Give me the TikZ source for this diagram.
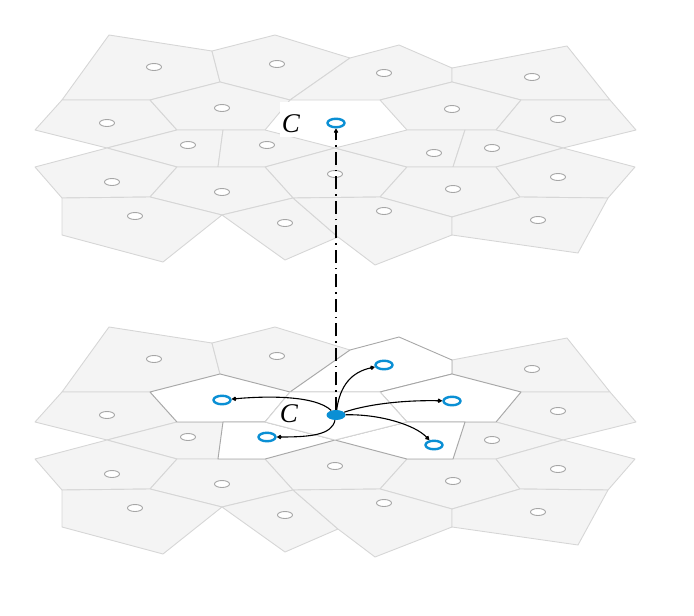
\documentclass[tikz,border=0pt]{standalone}
\usepackage{fontspec}
\newfontfamily\labfont{Liberation Serif}
\usetikzlibrary{shapes.geometric,arrows.meta}
\definecolor{tilefill}{HTML}{F4F4F4}
\definecolor{tileedge}{HTML}{D6D6D6}
\definecolor{hledge}{HTML}{A8A8A8}
\definecolor{sitegray}{HTML}{A6A6A6}
\definecolor{cblue}{HTML}{0A8FD4}
\def\polyA{(109,35) -- (212,51) -- (220,82) -- (150,100) -- (62,100) -- cycle}
\def\polyB{(212,51) -- (275,35) -- (350,58) -- (290,100) -- (220,82) -- cycle}
\def\polyCc{(290,100) -- (350,58) -- (399,45) -- (452,68) -- (452,82) -- (380,100) -- cycle}
\def\polyD{(452,68) -- (567,46) -- (610,100) -- (521,100) -- (452,82) -- cycle}
\def\polyE{(62,100) -- (150,100) -- (177,130) -- (107,148) -- (35,130) -- cycle}
\def\polyF{(150,100) -- (220,82) -- (290,100) -- (265,130) -- (177,130) -- cycle}
\def\polyX{(290,100) -- (380,100) -- (407,130) -- (335,148) -- (265,130) -- cycle}
\def\polyG{(380,100) -- (452,82) -- (521,100) -- (496,130) -- (407,130) -- cycle}
\def\polyH{(521,100) -- (610,100) -- (636,130) -- (563,148) -- (496,130) -- cycle}
\def\polyI{(107,148) -- (177,130) -- (223,130) -- (218,167) -- (177,167) -- cycle}
\def\polyJ{(223,130) -- (265,130) -- (335,148) -- (265,167) -- (218,167) -- cycle}
\def\polyK{(265,167) -- (335,148) -- (407,167) -- (380,197) -- (293,198) -- cycle}
\def\polyL{(335,148) -- (407,130) -- (465,130) -- (453,167) -- (407,167) -- cycle}
\def\polyM{(465,130) -- (496,130) -- (563,148) -- (496,167) -- (453,167) -- cycle}
\def\polyN{(35,167) -- (107,148) -- (177,167) -- (150,197) -- (62,198) -- cycle}
\def\polyO{(177,167) -- (265,167) -- (293,198) -- (222,215) -- (150,197) -- cycle}
\def\polyP{(407,167) -- (496,167) -- (520,197) -- (452,217) -- (380,197) -- cycle}
\def\polyQ{(496,167) -- (563,148) -- (635,167) -- (608,198) -- (520,197) -- cycle}
\def\polyR{(62,198) -- (150,197) -- (222,215) -- (163,262) -- (62,235) -- cycle}
\def\polyS{(222,215) -- (293,198) -- (338,237) -- (285,260) -- cycle}
\def\polyT{(293,198) -- (380,197) -- (452,217) -- (452,235) -- (375,265) -- (338,237) -- cycle}
\def\polyU{(452,217) -- (520,197) -- (608,198) -- (578,253) -- (452,235) -- cycle}
\newcommand\drawtile[2]{\expandafter\drawtileaux\csname poly#2\endcsname{#1}}
\newcommand\drawtileaux[2]{\draw[#2] #1;}
\begin{document}
\begin{tikzpicture}[x=1pt,y=-1pt,
  tile/.style={fill=tilefill,draw=tileedge,line width=0.9pt,line join=round},
  hltile/.style={fill=white,draw=hledge,line width=0.9pt,line join=round},
  ctile/.style={fill=white,draw=tileedge,line width=0.9pt,line join=round},
  site/.style={ellipse,draw=sitegray,fill=white,line width=0.9pt,minimum width=15pt,minimum height=7pt,inner sep=0pt},
  bsite/.style={ellipse,draw=cblue,fill=white,line width=2.4pt,minimum width=17pt,minimum height=8.5pt,inner sep=0pt},
  bdot/.style={ellipse,fill=cblue,minimum width=19pt,minimum height=10pt,inner sep=0pt},
  link/.style={line width=1.1pt,-{Kite[length=5pt,width=4.5pt]}},
  vlink/.style={line width=1.1pt,dash pattern=on 13pt off 5pt on 1.5pt off 5pt,-{Kite[length=5pt,width=4.5pt]}},
  lab/.style={font=\labfont\itshape\fontsize{27}{30}\selectfont,inner sep=0pt}]
\useasboundingbox (0,0) rectangle (694,616);
% ---------- top layer ----------
\begin{scope}
  \foreach \n in {A,B,Cc,D,E,F,G,H,I,J,K,L,M,N,O,P,Q,R,S,T,U} {\drawtile{tile}{\n}}
  \foreach \n/\x/\y in {A/154/67,B/277/64,Cc/384/73,D/532/77,E/107/123,F/222/108,G/452/109,H/558/119,I/188/145,J/267/145,K/335/174,L/434/153,M/492/148,N/112/182,O/222/192,P/453/189,Q/558/177,R/135/216,S/285/223,T/384/211,U/538/220}
    {\node[site] (t\n) at (\x,\y) {};}
  \node[bsite] (tC) at (336,123) {};
  \fill[white] (280,102) rectangle (312,137);
  \node[lab] (tlab) at (291,124) {C};
\end{scope}
% ---------- bottom layer ----------
\begin{scope}[shift={(0,292)}]
  \foreach \n in {A,B,D,E,H,I,K,M,N,O,P,Q,R,S,T,U} {\drawtile{tile}{\n}}
  \foreach \n in {F,Cc,G,J,L} {\drawtile{hltile}{\n}}
  \drawtile{ctile}{X}
  \foreach \n/\x/\y in {A/154/67,B/277/64,D/532/77,E/107/123,H/558/119,I/188/145,K/335/174,M/492/148,N/112/182,O/222/192,P/453/189,Q/558/177,R/135/216,S/285/223,T/384/211,U/538/220}
    {\node[site] (b\n) at (\x,\y) {};}
  \foreach \n/\x/\y in {F/222/108,Cc/384/73,G/452/109,J/267/145,L/434/153}
    {\node[bsite] (b\n) at (\x,\y) {};}
  \node[bdot] (bdot) at (336,123) {};
  \node[lab] (blab) at (289,121.5) {C};
  \draw[link] (bdot) .. controls (315,103) and (265,104) .. (bF);
  \draw[link] (bdot) .. controls (332,143) and (310,145) .. (bJ);
  \draw[link] (bdot) .. controls (340,93) and (352,80) .. (bCc);
  \draw[link] (bdot) .. controls (365,113) and (400,108) .. (bG);
  \draw[link] (bdot) .. controls (380,122) and (415,133) .. (bL);
\end{scope}
\draw[vlink] (bdot) -- (tC);
\end{tikzpicture}
\end{document}
